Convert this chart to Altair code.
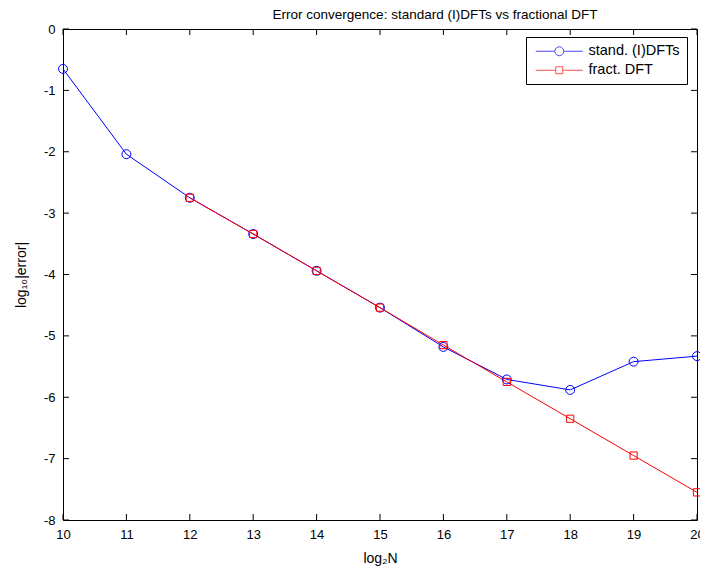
import altair as alt
import pandas as pd

# ---- data ----
log2N = [10, 11, 12, 13, 14, 15, 16, 17, 18, 19, 20]
std_err = [-0.65, -2.04, -2.75, -3.34, -3.94, -4.54, -5.18, -5.71, -5.88, -5.42, -5.33]
frac_N = [12, 13, 14, 15, 16, 17, 18, 19, 20]
frac_err = [-2.75, -3.34, -3.94, -4.54, -5.15, -5.75, -6.35, -6.95, -7.55]
series_names = ["stand. (I)DFTs", "fract. DFT"]
series_colors = ["#0000ff", "#ff0000"]
series_shapes = ["circle", "square"]
series_sizes = [80, 52]
x_ticks = list(range(10, 21))
y_ticks = list(range(-8, 1))

W, H = 634, 491
FONT = "Liberation Sans"

df = pd.DataFrame(
    {"n": log2N + frac_N,
     "err": std_err + frac_err,
     "series": [series_names[0]] * len(log2N) + [series_names[1]] * len(frac_N)}
)
xt = pd.DataFrame({"t": x_ticks})
yt = pd.DataFrame({"t": y_ticks})

xscale = alt.Scale(domain=[10, 20], nice=False, zero=False)
yscale = alt.Scale(domain=[-8, 0], nice=False, zero=False)

xax = alt.Axis(values=x_ticks, labelExpr="'' + datum.value", grid=False, ticks=False, domain=False,
               labelFlush=False, labelPadding=8, labelFontSize=13, labelFont=FONT, labelColor="black",
               title="log₂N", titleFont=FONT, titleFontSize=14, titleFontWeight="normal",
               titleColor="black", titlePadding=10)
yax = alt.Axis(values=y_ticks, labelExpr="'' + datum.value", grid=False, ticks=False, domain=False,
               labelFlush=False, labelPadding=8, labelFontSize=13, labelFont=FONT, labelColor="black",
               title="log₁₀|error|", titleFont=FONT, titleFontSize=14, titleFontWeight="normal",
               titleColor="black", titlePadding=15)

base = alt.Chart(df)

line_layers = []
point_layers = []
for i, name in enumerate(series_names):
    sub = base.transform_filter(alt.datum.series == name)
    line_layers.append(sub.mark_line(strokeWidth=1, color=series_colors[i]).encode(
        x=alt.X("n:Q", scale=xscale, axis=xax),
        y=alt.Y("err:Q", scale=yscale, axis=yax),
        order=alt.Order("n:Q"),
    ))
    point_layers.append(sub.mark_point(
        shape=series_shapes[i], size=series_sizes[i], filled=False, strokeWidth=1,
        color=series_colors[i], opacity=1,
    ).encode(
        x=alt.X("n:Q", scale=xscale),
        y=alt.Y("err:Q", scale=yscale),
    ))

# legend-only layer (stroke + shape channels): marks pushed outside the x domain and clipped
circ_path = ("M-4.7,0H-0.9M0.9,0H4.7M0.9,0"
             "L0.78,0.45L0.45,0.78L0,0.9L-0.45,0.78L-0.78,0.45L-0.9,0"
             "L-0.78,-0.45L-0.45,-0.78L0,-0.9L0.45,-0.78L0.78,-0.45Z")
sq_path = "M-4.7,0H-0.7M0.7,0H4.7M0.7,0V0.7H-0.7V-0.7H0.7Z"
leg_props = dict(title=None, orient="none", legendX=463, legendY=8,
                 strokeColor="black", fillColor="white", padding=7, cornerRadius=0,
                 symbolSize=100, symbolOffset=19, labelOffset=22, rowPadding=4,
                 labelExpr="datum.label + '  '",
                 symbolStrokeWidth=1, labelFont=FONT, labelFontSize=14.5, labelColor="black")
leg = base.transform_calculate(nx="datum.n + 1000").mark_point(
    filled=False, strokeWidth=1, clip=True
).encode(
    x=alt.X("nx:Q", scale=xscale),
    y=alt.Y("err:Q", scale=yscale),
    stroke=alt.Stroke("series:N", scale=alt.Scale(domain=series_names, range=series_colors),
                      legend=alt.Legend(**leg_props)),
    shape=alt.Shape("series:N", scale=alt.Scale(domain=series_names, range=[circ_path, sq_path]),
                    legend=alt.Legend(**leg_props)),
)

tick_top = alt.Chart(xt).mark_rule(color="black", strokeWidth=1).encode(
    x=alt.X("t:Q", scale=xscale), y=alt.value(0), y2=alt.value(6))
tick_bot = alt.Chart(xt).mark_rule(color="black", strokeWidth=1).encode(
    x=alt.X("t:Q", scale=xscale), y=alt.value(H), y2=alt.value(H - 6))
tick_left = alt.Chart(yt).mark_rule(color="black", strokeWidth=1).encode(
    y=alt.Y("t:Q", scale=yscale), x=alt.value(0), x2=alt.value(6))
tick_right = alt.Chart(yt).mark_rule(color="black", strokeWidth=1).encode(
    y=alt.Y("t:Q", scale=yscale), x=alt.value(W), x2=alt.value(W - 6))

chart = alt.layer(
    tick_top, tick_bot, tick_left, tick_right, *line_layers, *point_layers, leg
).properties(
    width=W, height=H,
    title=alt.Title("Error convergence: standard (I)DFTs vs fractional DFT",
                    font=FONT, fontSize=13.5, fontWeight="normal", color="black",
                    anchor="middle", dx=55, offset=2),
    autosize=alt.AutoSizeParams(type="none"),
    padding={"left": 55, "top": 21, "right": 3, "bottom": 48},
).configure_view(
    stroke="black", strokeWidth=1
)

chart.save("out.html", embed_options={"renderer": "svg", "actions": False})
